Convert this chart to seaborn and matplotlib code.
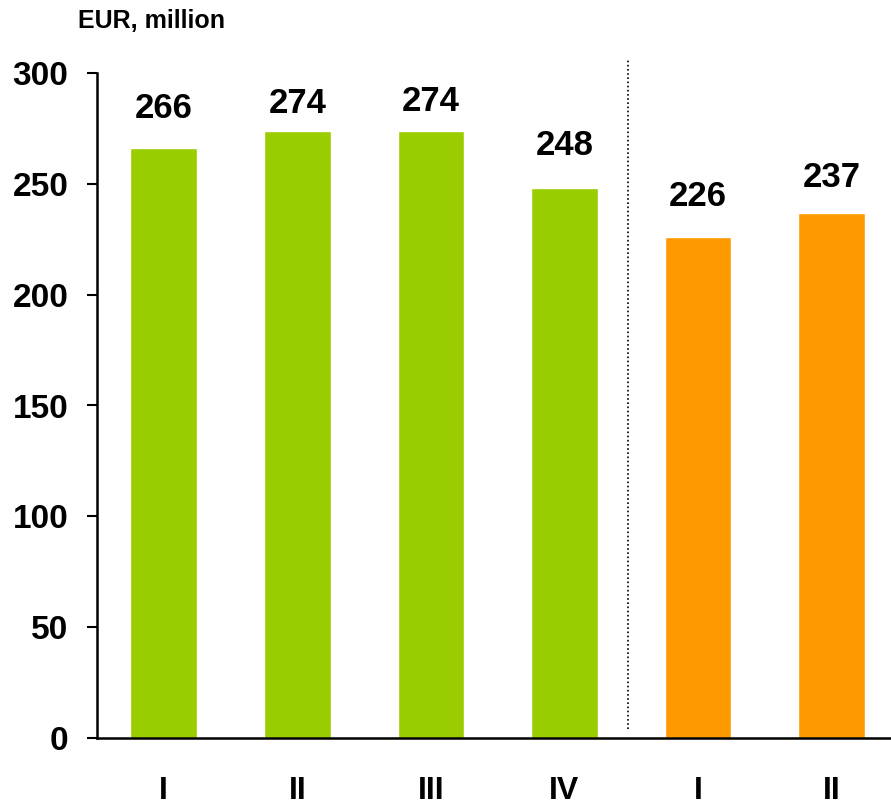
import matplotlib
matplotlib.use("Agg")
import matplotlib.pyplot as plt
import seaborn as sns
import pandas as pd

quarters = ["I", "II", "III", "IV", "I", "II"]
values = [266, 274, 274, 248, 226, 237]
groups = ["prev", "prev", "prev", "prev", "curr", "curr"]
colors = {"prev": "#9ACD00", "curr": "#FF9900"}
# label gap above each bar (points), as placed in the original
label_pad = [16.5, 7.5, 9, 19, 17, 13.3]

sns.set_theme(style="white")
plt.rcParams["font.family"] = ["Liberation Sans", "DejaVu Sans"]
plt.rcParams["font.weight"] = "bold"
plt.rcParams["text.color"] = "black"
plt.rcParams["xtick.color"] = "black"
plt.rcParams["ytick.color"] = "black"

df = pd.DataFrame({"pos": [str(i) for i in range(len(values))],
                   "value": values, "group": groups})

fig = plt.figure(figsize=(8.91, 8.05), dpi=100)
ax = fig.add_axes([97 / 891, 1 - 738 / 805, 1 - 97 / 891, 665 / 805])

sns.barplot(data=df, x="pos", y="value", hue="group", palette=colors,
            width=0.5, dodge=False, legend=False, ax=ax, saturation=1)

for c in ax.containers:
    for bar in c.patches:
        h = bar.get_height()
        if h != h or h == 0:
            continue
        i = int(round(bar.get_x() + bar.get_width() / 2))
        ax.annotate(f"{h:.0f}", (bar.get_x() + bar.get_width() / 2, h),
                    xytext=(0, label_pad[i]), textcoords="offset points",
                    ha="center", va="bottom", fontsize=25, fontweight="bold",
                    color="black")

ax.set_xlim(-0.5, 5.445)
ax.set_ylim(0, 300)
ax.set_yticks([0, 50, 100, 150, 200, 250, 300])
ax.set_xticks(range(len(quarters)))
ax.set_xticklabels(quarters, fontsize=23, fontweight="bold")
ax.tick_params(axis="y", labelsize=24, length=7.2, width=1.5, pad=13.5, left=True, color="black")
ax.tick_params(axis="x", length=0, pad=27)
for lab in ax.get_yticklabels():
    lab.set_fontweight("bold")

ax.set_xlabel("")
ax.set_ylabel("")
for s in ["top", "right"]:
    ax.spines[s].set_visible(False)
for s in ["left", "bottom"]:
    ax.spines[s].set_color("black")
    ax.spines[s].set_linewidth(1.8)

ax.vlines(3.477, 4, 306, colors="black", linestyles=(0, (1, 1.5)), linewidth=1.2, clip_on=False)

fig.text(78 / 891, 1 - 28 / 805, "EUR, million", fontsize=18, fontweight="bold",
         ha="left", va="baseline")

fig.savefig("out.png", dpi=100)
